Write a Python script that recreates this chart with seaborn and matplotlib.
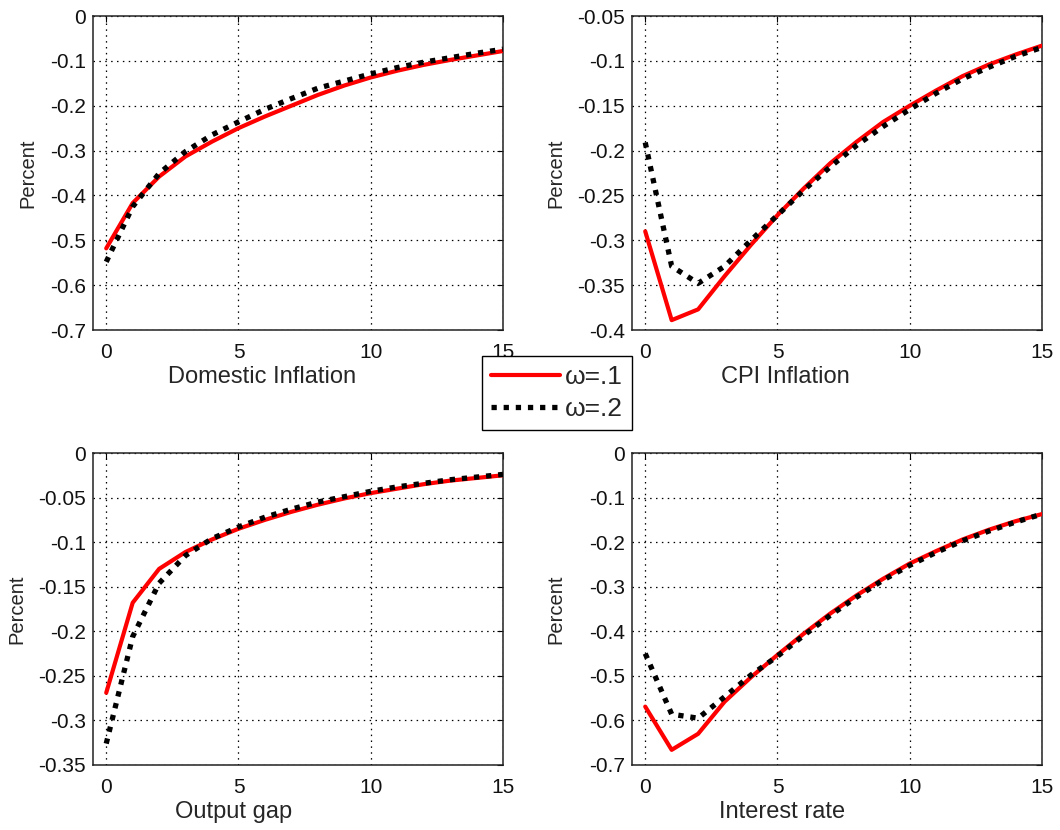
import matplotlib
matplotlib.use("Agg")
import matplotlib.pyplot as plt
import seaborn as sns
import pandas as pd

# ---- data ----
periods = list(range(16))

dom_w1 = [-0.518, -0.417, -0.358, -0.313, -0.280, -0.250, -0.224, -0.200,
          -0.176, -0.155, -0.137, -0.122, -0.109, -0.098, -0.088, -0.078]
dom_w2 = [-0.548, -0.425, -0.351, -0.302, -0.265, -0.236, -0.208, -0.184,
          -0.161, -0.145, -0.129, -0.115, -0.103, -0.093, -0.083, -0.074]

cpi_w1 = [-0.290, -0.389, -0.377, -0.340, -0.305, -0.272, -0.242, -0.214,
          -0.190, -0.168, -0.150, -0.133, -0.117, -0.104, -0.093, -0.083]
cpi_w2 = [-0.191, -0.329, -0.348, -0.329, -0.300, -0.272, -0.244, -0.218,
          -0.194, -0.173, -0.154, -0.136, -0.120, -0.107, -0.095, -0.085]

gap_w1 = [-0.269, -0.168, -0.130, -0.111, -0.097, -0.085, -0.075, -0.066,
          -0.058, -0.051, -0.045, -0.040, -0.035, -0.031, -0.028, -0.025]
gap_w2 = [-0.326, -0.206, -0.146, -0.115, -0.096, -0.083, -0.072, -0.063,
          -0.055, -0.049, -0.043, -0.038, -0.034, -0.030, -0.027, -0.024]

int_w1 = [-0.569, -0.666, -0.630, -0.558, -0.503, -0.453, -0.405, -0.360,
          -0.319, -0.282, -0.248, -0.220, -0.194, -0.172, -0.153, -0.137]
int_w2 = [-0.450, -0.586, -0.595, -0.547, -0.498, -0.456, -0.409, -0.364,
          -0.323, -0.285, -0.252, -0.223, -0.197, -0.175, -0.155, -0.137]

series_labels = ["ω=.1", "ω=.2"]
panel_titles = ["Domestic Inflation", "CPI Inflation", "Output gap", "Interest rate"]
y_label = "Percent"
x_ticks = [0, 5, 10, 15]

yt_dom = [0, -0.1, -0.2, -0.3, -0.4, -0.5, -0.6, -0.7]
yl_dom = ["0", "-0.1", "-0.2", "-0.3", "-0.4", "-0.5", "-0.6", "-0.7"]
yt_cpi = [-0.05, -0.1, -0.15, -0.2, -0.25, -0.3, -0.35, -0.4]
yl_cpi = ["-0.05", "-0.1", "-0.15", "-0.2", "-0.25", "-0.3", "-0.35", "-0.4"]
yt_gap = [0, -0.05, -0.1, -0.15, -0.2, -0.25, -0.3, -0.35]
yl_gap = ["0", "-0.05", "-0.1", "-0.15", "-0.2", "-0.25", "-0.3", "-0.35"]
yt_int = [0, -0.1, -0.2, -0.3, -0.4, -0.5, -0.6, -0.7]
yl_int = ["0", "-0.1", "-0.2", "-0.3", "-0.4", "-0.5", "-0.6", "-0.7"]

# ---- style ----
sns.set_style("white")
plt.rcParams["font.family"] = ["Liberation Sans", "DejaVu Sans"]
plt.rcParams["axes.unicode_minus"] = False

fig = plt.figure(figsize=(10.6, 8.3), dpi=100)
W, H = 1060.0, 830.0

def axes_px(left, top, right, bottom):
    return fig.add_axes([left / W, 1 - bottom / H, (right - left) / W, (bottom - top) / H])

panels = [
    (axes_px(93, 16, 503, 330), dom_w1, dom_w2, yt_dom, yl_dom, (-0.7, 0), 0.412, -0.158),
    (axes_px(632, 16, 1042, 330), cpi_w1, cpi_w2, yt_cpi, yl_cpi, (-0.4, -0.05), 0.373, -0.185),
    (axes_px(93, 453, 503, 765), gap_w1, gap_w2, yt_gap, yl_gap, (-0.35, 0), 0.344, -0.185),
    (axes_px(632, 453, 1042, 765), int_w1, int_w2, yt_int, yl_int, (-0.7, 0), 0.366, -0.185),
]

handles = None
for (ax, s1, s2, yt, yl, ylim, xlab_x, ylab_x), title in zip(panels, panel_titles):
    df = pd.DataFrame({"t": periods, "a": s1, "b": s2})
    sns.lineplot(data=df, x="t", y="a", ax=ax, color="#ff0000", lw=3.0,
                 label=series_labels[0], legend=False, zorder=3)
    sns.lineplot(data=df, x="t", y="b", ax=ax, color="black", lw=3.8,
                 linestyle=(0, (1, 1.3)), label=series_labels[1], legend=False, zorder=4)
    ax.set_xlim(-0.5, 15)
    ax.set_ylim(*ylim)
    ax.set_xticks(x_ticks)
    ax.set_xticklabels([str(v) for v in x_ticks], fontsize=15)
    ax.set_yticks(yt)
    ax.set_yticklabels(yl, fontsize=15)
    ax.grid(True, color="black", linestyle=(0, (1.2, 3.5)), lw=0.9)
    ax.tick_params(direction="in", length=4, width=0.8, top=True, right=True,
                   colors="black", labelcolor="#111111")
    ax.tick_params(axis="x", pad=9)
    ax.tick_params(axis="y", pad=5)
    for sp in ax.spines.values():
        sp.set_visible(True)
        sp.set_color("#222222")
        sp.set_linewidth(1.1)
    ax.set_xlabel(title, fontsize=17)
    ax.xaxis.set_label_coords(xlab_x, -0.15)
    ax.xaxis.label.set_va("center")
    ax.set_ylabel(y_label, fontsize=14.5)
    ax.yaxis.set_label_coords(ylab_x, 0.5)
    ax.yaxis.label.set_va("center")
    if handles is None:
        handles, labels = ax.get_legend_handles_labels()

leg = fig.legend(handles, series_labels, loc="upper left",
                 bbox_to_anchor=(482 / W, 1 - 356 / H), fontsize=19,
                 frameon=True, fancybox=False, framealpha=1, edgecolor="black",
                 handlelength=2.6, handletextpad=0.2, borderpad=0.35,
                 labelspacing=0.3, borderaxespad=0)
leg.get_frame().set_linewidth(1.0)

fig.savefig("out.png", dpi=100, facecolor="white")
